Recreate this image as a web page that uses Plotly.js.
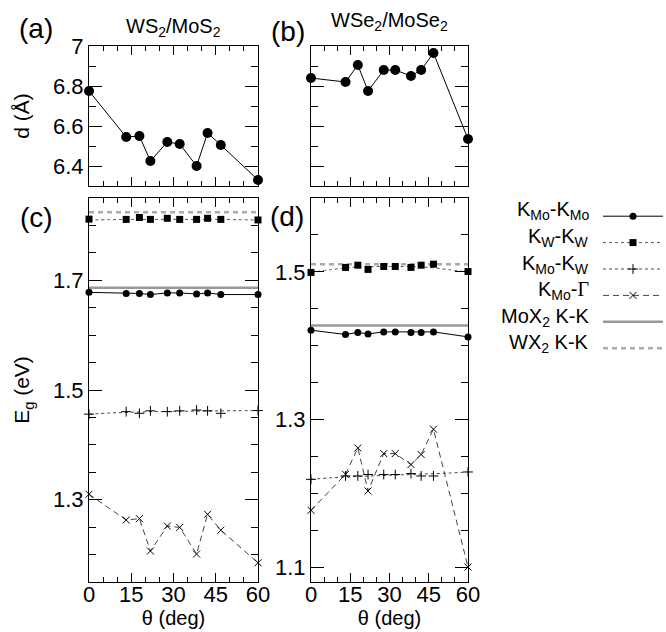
<!DOCTYPE html>
<html>
<head>
<meta charset="utf-8">
<script src="https://cdn.plot.ly/plotly-3.0.1.min.js"></script>
<style>html,body{margin:0;padding:0;background:#fff;}#plot{width:666px;height:632px;}</style>
</head>
<body>
<div id="plot"></div>
<script>
// ---------- data ----------
var theta = [0, 13.2, 17.9, 21.8, 27.8, 32.2, 38.2, 42.1, 46.8, 60];
var thetaFit = [0, 7.5, 15, 22.5, 30, 37.5, 45, 52.5, 60];
var thetaMono = [0, 60];

// interlayer distance d (Å)
var dWS2 = [6.775, 6.545, 6.55, 6.425, 6.52, 6.51, 6.40, 6.565, 6.505, 6.33];
var dWSe2 = [6.84, 6.82, 6.905, 6.775, 6.88, 6.88, 6.85, 6.88, 6.965, 6.535];

// WS2/MoS2 gaps (eV)
var kMoMoS = [1.678, 1.676, 1.676, 1.674, 1.677, 1.677, 1.675, 1.677, 1.674, 1.674];
var kWWS = [1.8115, 1.811, 1.8145, 1.811, 1.813, 1.811, 1.811, 1.813, 1.811, 1.810];
var kMoWS = [1.456, 1.4605, 1.4575, 1.462, 1.4605, 1.462, 1.4635, 1.462, 1.4575, 1.4625];
var kMoGS = [1.310, 1.263, 1.2655, 1.2065, 1.252, 1.2495, 1.201, 1.2735, 1.2445, 1.185];
var fitWWS = [1.810, 1.8105, 1.811, 1.811, 1.811, 1.811, 1.811, 1.8105, 1.810];
var fitMoWS = [1.456, 1.458, 1.4595, 1.4605, 1.461, 1.4615, 1.462, 1.4622, 1.4625];
var monoMoS2 = [1.6865, 1.6865];
var monoWS2 = [1.824, 1.824];

// WSe2/MoSe2 gaps (eV)
var kMoMoSe = [1.421, 1.4152, 1.4179, 1.416, 1.4187, 1.4187, 1.4179, 1.4179, 1.4187, 1.4119];
var kWWSe = [1.4992, 1.506, 1.509, 1.5033, 1.5073, 1.5073, 1.506, 1.509, 1.5104, 1.5005];
var kMoWSe = [1.219, 1.2236, 1.2236, 1.2255, 1.2255, 1.2255, 1.2268, 1.2236, 1.2236, 1.229];
var kMoGSe = [1.1771, 1.2259, 1.2615, 1.2033, 1.2539, 1.2539, 1.239, 1.2526, 1.2869, 1.1003];
var fitWWSe = [1.4992, 1.503, 1.506, 1.507, 1.5073, 1.507, 1.506, 1.503, 1.4995];
var fitMoWSe = [1.219, 1.221, 1.2225, 1.2235, 1.2245, 1.2255, 1.2265, 1.2275, 1.229];
var monoMoSe2 = [1.4274, 1.4274];
var monoWSe2 = [1.5104, 1.5104];

var xTickVals = [0, 15, 30, 45, 60];
var legendNames = ['K<sub>Mo</sub>-K<sub>Mo</sub>', 'K<sub>W</sub>-K<sub>W</sub>', 'K<sub>Mo</sub>-K<sub>W</sub>',
  'K<sub>Mo</sub>-<span style="font-family:\'Liberation Serif\',serif">Γ</span>', 'MoX<sub>2</sub> K-K', 'WX<sub>2</sub> K-K'];

// ---------- styles ----------
var FONT = 'Liberation Sans, Arial, Helvetica, sans-serif';
var sMoMo = {line: {color: '#000', width: 1}, marker: {symbol: 'circle', size: 7, color: '#000'}};
var sWW = {line: {color: '#555', width: 1, dash: 'dot'}, marker: {symbol: 'square', size: 7, color: '#000'}};
var sMoW = {line: {color: '#444', width: 1, dash: '3px,3px'}, marker: {symbol: 'cross-thin', size: 7, color: '#000', line: {width: 1, color: '#000'}}};
var sMoG = {line: {color: '#444', width: 1, dash: '6px,4px'}, marker: {symbol: 'x-thin', size: 7, color: '#000', line: {width: 1, color: '#000'}}};
var sMono = {line: {color: '#999', width: 2.5}};
var sMonoW = {line: {color: '#aaa', width: 2.5, dash: '5px,4px'}};

var traces = [];
function add(x, y, xa, ya, mode, st, extra) {
  var t = {x: x, y: y, xaxis: xa, yaxis: ya, mode: mode, type: 'scatter', showlegend: false, cliponaxis: false, hoverinfo: 'skip'};
  if (mode.indexOf('lines') >= 0 && st.line) t.line = st.line;
  if (mode.indexOf('markers') >= 0 && st.marker) t.marker = st.marker;
  if (extra) for (var k in extra) t[k] = extra[k];
  traces.push(t);
}

// (a), (b)
add(theta, dWS2, 'x', 'y', 'lines+markers', {line: {color: '#000', width: 1}, marker: {symbol: 'circle', size: 10, color: '#000'}});
add(theta, dWSe2, 'x2', 'y2', 'lines+markers', {line: {color: '#000', width: 1}, marker: {symbol: 'circle', size: 10, color: '#000'}});

// (c)
add(thetaMono, monoMoS2, 'x3', 'y3', 'lines', sMono);
add(thetaMono, monoWS2, 'x3', 'y3', 'lines', sMonoW);
add(thetaFit, fitWWS, 'x3', 'y3', 'lines', sWW, {line: {color: '#555', width: 1, dash: 'dot', shape: 'spline'}});
add(thetaFit, fitMoWS, 'x3', 'y3', 'lines', sMoW, {line: {color: '#444', width: 1, dash: '3px,3px', shape: 'spline'}});
add(theta, kMoGS, 'x3', 'y3', 'lines', sMoG);
add(theta, kMoMoS, 'x3', 'y3', 'lines+markers', sMoMo);
add(theta, kWWS, 'x3', 'y3', 'markers', sWW);
add(theta, kMoWS, 'x3', 'y3', 'markers', sMoW);
add(theta, kMoGS, 'x3', 'y3', 'markers', sMoG);

// (d)
add(thetaMono, monoMoSe2, 'x4', 'y4', 'lines', sMono);
add(thetaMono, monoWSe2, 'x4', 'y4', 'lines', sMonoW);
add(thetaFit, fitWWSe, 'x4', 'y4', 'lines', sWW, {line: {color: '#555', width: 1, dash: 'dot', shape: 'spline'}});
add(thetaFit, fitMoWSe, 'x4', 'y4', 'lines', sMoW, {line: {color: '#444', width: 1, dash: '3px,3px', shape: 'spline'}});
add(theta, kMoGSe, 'x4', 'y4', 'lines', sMoG);
add(theta, kMoMoSe, 'x4', 'y4', 'lines+markers', sMoMo);
add(theta, kWWSe, 'x4', 'y4', 'markers', sWW);
add(theta, kMoWSe, 'x4', 'y4', 'markers', sMoW);
add(theta, kMoGSe, 'x4', 'y4', 'markers', sMoG);

// legend sample traces
var legStyles = [
  {mode: 'lines+markers', line: sMoMo.line, marker: sMoMo.marker},
  {mode: 'lines+markers', line: sWW.line, marker: sWW.marker},
  {mode: 'lines+markers', line: sMoW.line, marker: sMoW.marker},
  {mode: 'lines+markers', line: sMoG.line, marker: sMoG.marker},
  {mode: 'lines', line: sMono.line},
  {mode: 'lines', line: sMonoW.line}
];
legStyles.forEach(function (s, i) {
  var t = {x: [null], y: [null], xaxis: 'x3', yaxis: 'y3', type: 'scatter', mode: s.mode, line: s.line, name: ' ', showlegend: true, hoverinfo: 'skip'};
  if (s.marker) t.marker = s.marker;
  traces.push(t);
});

// ---------- layout ----------
var L = 89, R = 198, T = 46, B = 50, W = 666, H = 632;
var pw = W - L - R, ph = H - T - B;
function px2x(p) { return (p - L) / pw; }
function py2y(p) { return 1 - (p - T) / ph; }

function xax(domain, anchor, labels, title) {
  var a = {domain: domain, anchor: anchor, range: [0, 60], tickvals: xTickVals, showticklabels: labels,
    showline: true, linecolor: '#000', linewidth: 1, mirror: 'allticks', ticks: 'inside', ticklen: 9, tickwidth: 1, tickcolor: '#000',
    showgrid: false, zeroline: false, tickfont: {family: FONT, size: 22, color: '#000'}, ticklabelstandoff: -7,
    minor: {dtick: 5, tick0: 0, ticks: 'inside', ticklen: 5, tickwidth: 1, tickcolor: '#000', showgrid: false}};
  if (title) a.title = {text: title, font: {family: FONT, size: 20, color: '#000'}, standoff: 0};
  return a;
}
function yax(domain, anchor, range, tick0, minorD, labels, title) {
  var a = {domain: domain, anchor: anchor, range: range, tick0: tick0, dtick: 0.2, showticklabels: labels,
    showline: true, linecolor: '#000', linewidth: 1, mirror: 'allticks', ticks: 'inside', ticklen: 13, tickwidth: 1, tickcolor: '#000',
    showgrid: false, zeroline: false, tickfont: {family: FONT, size: 22, color: '#000'},
    minor: {dtick: minorD, ticks: 'inside', ticklen: 7, tickwidth: 1, tickcolor: '#000', showgrid: false}};
  if (title) a.title = {text: title, font: {family: FONT, size: 21, color: '#000'}, standoff: 17};
  return a;
}

var xdA = [0, px2x(258)], xdB = [px2x(311), 1];
var ydTop = [py2y(186), 1], ydBot = [0, py2y(198)];

var ann = [];
function txt(x, y, s, size, xanchor) {
  ann.push({xref: 'paper', yref: 'paper', x: x, y: y, text: s, showarrow: false, xanchor: xanchor || 'center', yanchor: 'middle',
    font: {family: FONT, size: size, color: '#000'}});
}
txt(px2x(173.5), py2y(27), 'WS<sub>2</sub>/MoS<sub>2</sub>', 20);
txt(px2x(389.5), py2y(21), 'WSe<sub>2</sub>/MoSe<sub>2</sub>', 20);
txt(px2x(36), py2y(28), '(a)', 28);
txt(px2x(288), py2y(32), '(b)', 28);
txt(px2x(36), py2y(218), '(c)', 28);
txt(px2x(287), py2y(216), '(d)', 28);
var legRows = [211, 238, 264, 290, 317, 343];
legendNames.forEach(function (n, i) { txt(px2x(591), py2y(legRows[i]), n, 20, 'right'); });

var layout = {
  width: W, height: H, margin: {l: L, r: R, t: T, b: B, autoexpand: false},
  paper_bgcolor: '#fff', plot_bgcolor: '#fff',
  font: {family: FONT, color: '#000'},
  showlegend: true,
  legend: {x: px2x(598), xanchor: 'left', y: py2y(198), yanchor: 'top', bgcolor: 'rgba(0,0,0,0)', borderwidth: 0,
    font: {family: FONT, size: 18}, itemwidth: 60, tracegroupgap: 0},
  xaxis: xax(xdA, 'y', false),
  yaxis: yax(ydTop, 'x', [6.3, 7.0001], 6.4, 0.1, true, 'd (Å)'),
  xaxis2: xax(xdB, 'y2', false),
  yaxis2: yax(ydTop, 'x2', [6.3, 7.0001], 6.4, 0.1, false),
  xaxis3: xax(xdA, 'y3', true, 'θ (deg)'),
  yaxis3: yax(ydBot, 'x3', [1.15, 1.85], 1.3, 0.05, true, 'E<sub>g</sub> (eV)'),
  xaxis4: xax(xdB, 'y4', true, 'θ (deg)'),
  yaxis4: yax(ydBot, 'x4', [1.08, 1.6], 1.1, 0.05, true),
  annotations: ann
};

Plotly.newPlot('plot', traces, layout, {staticPlot: true, displayModeBar: false});
</script>
</body>
</html>
